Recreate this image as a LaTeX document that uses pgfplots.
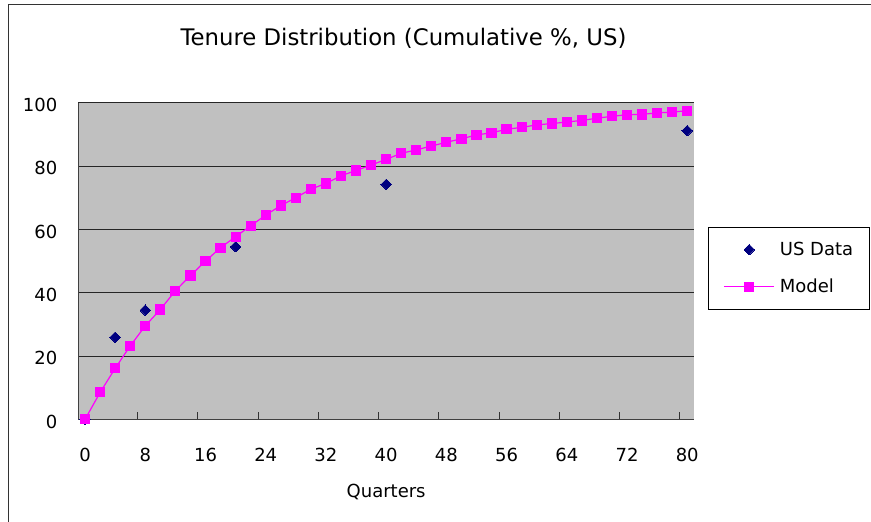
\documentclass[border=0pt]{standalone}
\usepackage{pgfplots}
\pgfplotsset{compat=1.18}
\usepackage{fontspec}
\setmainfont{DejaVu Sans}
\definecolor{plotbg}{HTML}{C0C0C0}
\definecolor{navy}{HTML}{000080}
\definecolor{mag}{HTML}{FF00FF}
\pgfplotstableread{
x y
0 0
2 8.5
4 16.1
6 23.2
8 29.5
10 34.7
12 40.6
14 45.4
16 50.0
18 54.2
20 57.7
22 61.1
24 64.5
26 67.5
28 70.0
30 72.7
32 74.5
34 76.9
36 78.6
38 80.3
40 82.1
42 84.0
44 85.1
46 86.3
48 87.5
50 88.6
52 89.8
54 90.5
56 91.6
58 92.2
60 93.0
62 93.4
64 93.9
66 94.4
68 95.1
70 95.7
72 96.2
74 96.3
76 96.8
78 97.0
80 97.5
}\modeldata
\pgfplotstableread{
x y
0 0
4 25.9
8 34.5
20 54.5
40 74.2
80 91.2
}\usdata
\begin{document}
\begin{tikzpicture}[x=1pt,y=1pt]
\useasboundingbox (0,0) rectangle (871,522);
\draw[black!80, line width=1pt] (8.3,-5) -- (8.3,517) -- (880,517);
\node[font=\fontsize{22.8}{26}\selectfont] at (403.5,484) {Tenure Distribution (Cumulative \%, US)};
\begin{axis}[
  at={(78.3pt,102.7pt)}, anchor=south west,
  scale only axis, width=615.7pt, height=316.6pt,
  xmin=-0.9, xmax=80.9, ymin=0, ymax=100,
  axis x line*=bottom, axis y line*=left,
  axis line style={-, black!75, line width=1pt},
  axis background/.style={fill=plotbg},
  xtick={0,8,...,80},
  minor xtick={7,15,...,79},
  ytick={0,20,...,100},
  major x tick style={draw=none},
  major y tick style={draw=none},
  minor tick length=7.7pt,
  tick align=inside,
  minor x tick style={black!80, line width=1pt},
  ymajorgrids,
  major grid style={black!85, line width=0.9pt},
  /pgf/number format/assume math mode=true,
  tick label style={font=\fontsize{18}{20}\selectfont, inner sep=0pt},
  xticklabel style={anchor=center, yshift=-35.7pt},
  yticklabel style={anchor=east, xshift=-20.8pt, yshift=-2.4pt},
  xlabel={Quarters},
  xlabel style={at={(axis description cs:0.5,-0.2287)}, anchor=center, font=\fontsize{18}{20}\selectfont},
  clip=false,
  legend style={at={(axis description cs:1.0232,0.608)}, anchor=north west,
    draw=black, line width=0.8pt, fill=white, font=\fontsize{18}{20}\selectfont,
    inner xsep=15pt, inner ysep=14pt, row sep=20pt,
    nodes={inner sep=1pt, anchor=west},
    /tikz/every odd column/.append style={column sep=4pt}},
  legend cell align=left,
  legend image code/.code={\draw[mark repeat=2,mark phase=2,#1] plot coordinates {(0pt,0pt) (25pt,0pt) (50pt,0pt)};},
]
\addplot[only marks, mark=square*, mark size=3.7pt, color=navy, mark options={fill=navy, draw=navy, rotate=45, line width=0pt}] table[x=x,y=y]{\usdata};
\addlegendentry{US Data}
\addplot[color=mag, line width=1.2pt, mark=square*, mark size=4.6pt, mark options={fill=mag, draw=mag, line width=0pt}] table[x=x,y=y]{\modeldata};
\addlegendentry{Model}
\end{axis}
\end{tikzpicture}
\end{document}
